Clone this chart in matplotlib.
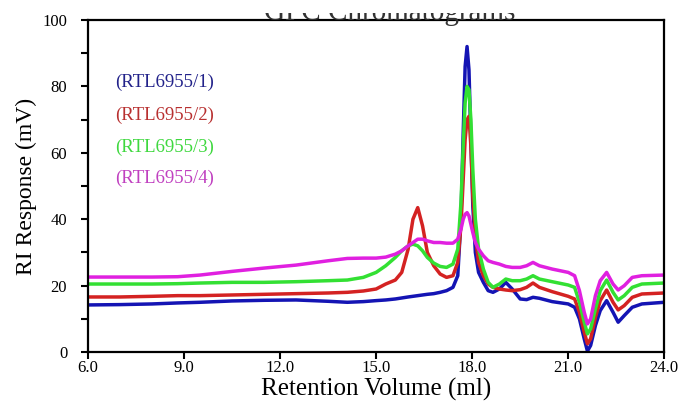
import matplotlib
matplotlib.use("Agg")
import matplotlib.pyplot as plt
from matplotlib.ticker import MultipleLocator, FormatStrFormatter
from matplotlib.transforms import Bbox, TransformedBbox

plt.rcParams['font.family'] = ['Liberation Serif', 'DejaVu Serif']

volume = [6.0, 7.0, 8.0, 8.8, 9.5, 10.5, 11.5, 12.5, 13.5, 14.1, 14.6, 15.0, 15.3, 15.6, 15.8,
          16.0, 16.15, 16.3, 16.45, 16.6, 16.8, 17.0, 17.2, 17.4, 17.55, 17.65, 17.72, 17.78,
          17.84, 17.9, 17.96, 18.02, 18.1, 18.2, 18.35, 18.5, 18.65, 18.85, 19.05, 19.25, 19.5,
          19.7, 19.9, 20.1, 20.5, 21.0, 21.2, 21.35, 21.5, 21.6, 21.7, 21.85, 22.0, 22.2, 22.4,
          22.56, 22.75, 23.0, 23.3, 24.0]

rtl1 = [14.2, 14.3, 14.5, 14.8, 15.0, 15.4, 15.6, 15.7, 15.3, 15.0, 15.2, 15.5, 15.7, 16.0, 16.3,
        16.6, 16.8, 17.0, 17.2, 17.4, 17.6, 18.0, 18.5, 19.5, 23, 40, 66, 86,
        92, 85, 64, 44, 30, 24, 21, 18.5, 18, 19, 21, 19, 16,
        15.8, 16.5, 16.2, 15.2, 14.5, 13.5, 10, 4, 0.3, 2, 8, 12.5, 15.5, 12,
        9, 11, 13.5, 14.5, 15]

rtl2 = [16.6, 16.6, 16.8, 17.0, 17.0, 17.2, 17.4, 17.6, 17.8, 18.0, 18.4, 19.0, 20.5, 21.7, 24,
        31, 40, 43.5, 38, 30, 26, 23.5, 22.5, 23, 27, 38, 52, 64,
        70, 71, 62, 47, 35, 27, 23, 20.5, 19.5, 19, 18.7, 18.5, 18.8,
        19.5, 20.8, 19.5, 18.2, 16.8, 16, 12, 6, 2.5, 4, 10.5, 15.5, 18.7, 15,
        12.7, 14, 16.5, 17.5, 17.8]

rtl3 = [20.5, 20.5, 20.5, 20.6, 20.8, 21.0, 21.0, 21.2, 21.5, 21.7, 22.5, 24, 26, 28.5, 30.5,
        32, 32.5, 32, 30.5, 28.5, 26.8, 25.8, 25.5, 26.5, 31, 45, 62, 75,
        80, 79, 70, 55, 40, 31, 25, 21, 19.5, 20.5, 22, 21.5, 21.5,
        22, 23, 22, 21.2, 20.2, 19.5, 15, 9, 5.5, 7, 13, 18.5, 21.7, 18,
        15.7, 17, 19.5, 20.5, 20.8]

rtl4 = [22.6, 22.6, 22.6, 22.7, 23.2, 24.3, 25.3, 26.2, 27.5, 28.2, 28.3, 28.3, 28.6, 29.5, 30.5,
        32, 33, 34, 34, 33.5, 33, 33, 32.8, 32.8, 34, 37, 40, 41.5,
        42, 41, 38.5, 36, 33, 31, 29, 27.5, 27, 26.5, 25.8, 25.5, 25.5,
        26, 27, 26, 25, 24, 23, 18.5, 12, 8.5, 10, 17, 21.5, 24, 20.5,
        18.7, 20, 22.5, 23, 23.2]

labels = ["(RTL6955/1)", "(RTL6955/2)", "(RTL6955/3)", "(RTL6955/4)"]
label_y = [81.3, 71.4, 61.7, 52.4]
line_colors = ["#1414b4", "#d42222", "#33e033", "#e020e0"]
text_colors = ["#22228a", "#b83030", "#3fd83f", "#c040c0"]

fig = plt.figure(figsize=(6.82, 4.08), dpi=100)
ax = fig.add_axes([0.129, 0.137, 0.845, 0.814])

for ys, c in zip([rtl1, rtl2, rtl3, rtl4], line_colors):
    ax.plot(volume, ys, color=c, lw=2.5, solid_joinstyle='round')

for lab, ly, tc in zip(labels, label_y, text_colors):
    ax.text(6.84, ly, lab, color=tc, fontsize=13.5, va='center', ha='left')

ax.set_xlim(6.0, 24.0)
ax.set_ylim(0, 100)
ax.xaxis.set_major_locator(MultipleLocator(3.0))
ax.xaxis.set_major_formatter(FormatStrFormatter('%.1f'))
ax.yaxis.set_major_locator(MultipleLocator(20))
ax.yaxis.set_minor_locator(MultipleLocator(10))
ax.tick_params(axis='both', which='both', direction='out', width=1.5, labelsize=12)
ax.tick_params(axis='both', which='major', length=5)
ax.tick_params(axis='y', which='minor', length=5)
ax.tick_params(axis='x', pad=1)
ax.tick_params(axis='y', pad=10)
for sp in ax.spines.values():
    sp.set_linewidth(1.6)

ax.set_xlabel("Retention Volume (ml)", fontsize=18, labelpad=1)
ax.set_ylabel("RI Response (mV)", fontsize=17, labelpad=4)

# Title is mostly cut off at the top edge in the reference: only its lower part shows
title = fig.text(0.572, 0.950, "GPC Chromatograms", fontsize=21, ha='center',
                 va='baseline', color='#333333')
title.set_clip_box(TransformedBbox(Bbox([[0, 0], [1, 1 - 13 / 408]]), fig.transFigure))
title.set_clip_on(True)

fig.savefig("out.png", dpi=100)
